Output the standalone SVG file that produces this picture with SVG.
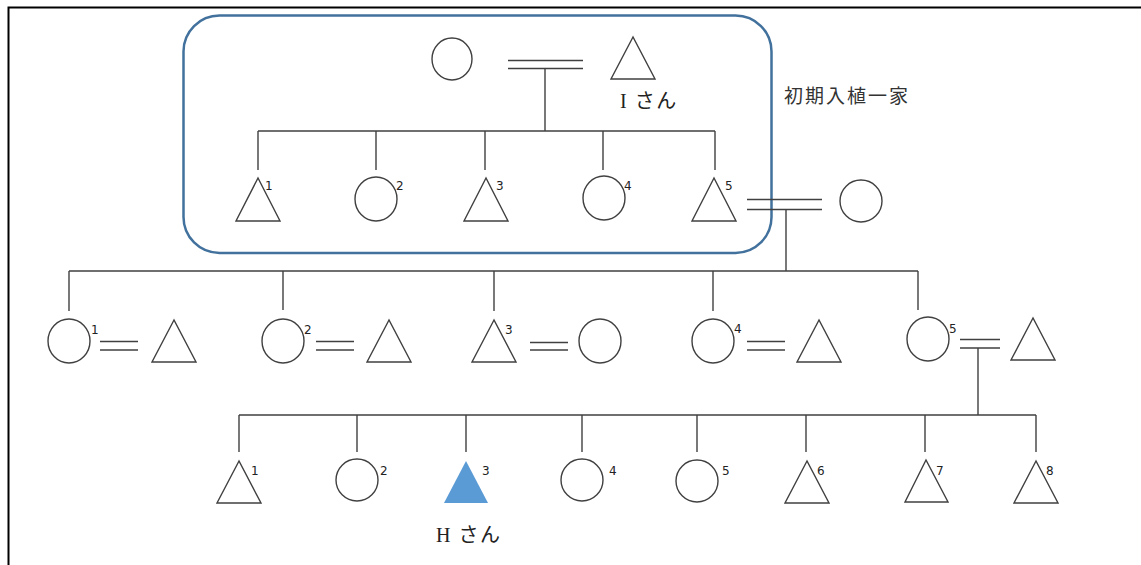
<svg xmlns="http://www.w3.org/2000/svg" width="1141" height="565" viewBox="0 0 1141 565">
<style>
.s{fill:none;stroke:#404040;stroke-width:1.4}
.c{fill:#fff;stroke:#404040;stroke-width:1.4}
.n{font-family:"DejaVu Sans","Liberation Sans",sans-serif;font-size:12px;fill:#222}
.j{font-family:"Liberation Serif","Noto Sans CJK JP",serif;font-size:20px;letter-spacing:1.5px;fill:#222}
.k{font-family:"Noto Sans CJK JP",sans-serif;font-size:19px;letter-spacing:2px;fill:#333}
</style>
<rect x="0" y="0" width="1141" height="565" fill="#fff"/>
<path d="M8.5,565 V7.5 H1141" fill="none" stroke="#000" stroke-width="2"/>
<g id="family-box">
<rect x="183.5" y="15.5" width="588" height="237.5" rx="36" fill="none" stroke="#41719C" stroke-width="2.5"/>
<text class="k" x="784" y="103">初期入植一家</text>
</g>
<g id="connectors" class="s">
<path d="M508,60.5H583M508,68.5H583M545,68.5V131"/>
<path d="M258,131H715M258,131V170M376,131V170M485,131V170M603,131V170M715,131V170"/>
<path d="M747,199.5H822M747,209.5H822M786,209.5V271"/>
<path d="M69,271H918M69,271V311M283,271V310M494,271V311M713,271V311M918,271V310"/>
<path d="M100,341.5H138M100,350H138"/>
<path d="M316,341.5H354M316,350H354"/>
<path d="M530,342.5H568M530,350H568"/>
<path d="M747,341.5H785M747,350H785"/>
<path d="M960,339.5H1000M960,348H1000M978,348V415"/>
<path d="M239,415H1036M239,415V452M357,415V452M466,415V452M582,415V452M697,415V452M806,415V452M925,415V452M1036,415V452"/>
</g>
<g id="g1-f"><ellipse class="c" cx="452" cy="59" rx="20" ry="21"/></g>
<g id="g1-m"><polygon class="c" points="633,37 611,79 655,79"/><text class="j" x="620" y="108">I さん</text></g>
<g id="g2-1"><polygon class="c" points="258,178 236,221 280,221"/><text class="n" x="265" y="190">1</text></g>
<g id="g2-2"><ellipse class="c" cx="376" cy="199" rx="21" ry="22"/><text class="n" x="396" y="190">2</text></g>
<g id="g2-3"><polygon class="c" points="486,178 464,221 508,221"/><text class="n" x="496" y="190">3</text></g>
<g id="g2-4"><ellipse class="c" cx="604" cy="198" rx="21" ry="22"/><text class="n" x="624" y="190">4</text></g>
<g id="g2-5"><polygon class="c" points="714,178 692,221 736,221"/><text class="n" x="725" y="190">5</text></g>
<g id="g2-5s"><ellipse class="c" cx="861" cy="201" rx="21" ry="21"/></g>
<g id="g3-1"><ellipse class="c" cx="69" cy="341" rx="21" ry="22"/><text class="n" x="91" y="334">1</text></g>
<g id="g3-1s"><polygon class="c" points="174,320 152,362 196,362"/></g>
<g id="g3-2"><ellipse class="c" cx="283" cy="341" rx="21" ry="22"/><text class="n" x="304" y="334">2</text></g>
<g id="g3-2s"><polygon class="c" points="389,320 367,362 411,362"/></g>
<g id="g3-3"><polygon class="c" points="494,320 472,362 516,362"/><text class="n" x="505" y="334">3</text></g>
<g id="g3-3s"><ellipse class="c" cx="600" cy="341" rx="21" ry="22"/></g>
<g id="g3-4"><ellipse class="c" cx="713" cy="341" rx="21" ry="22"/><text class="n" x="734" y="333">4</text></g>
<g id="g3-4s"><polygon class="c" points="819,320 797,362 841,362"/></g>
<g id="g3-5"><ellipse class="c" cx="928" cy="339" rx="21" ry="22"/><text class="n" x="949" y="333">5</text></g>
<g id="g3-5s"><polygon class="c" points="1033,318 1011,360 1055,360"/></g>
<g id="g4-1"><polygon class="c" points="239,461 217,503 261,503"/><text class="n" x="251" y="475">1</text></g>
<g id="g4-2"><ellipse class="c" cx="357" cy="480" rx="21" ry="21"/><text class="n" x="380" y="475">2</text></g>
<g id="g4-3"><polygon points="466,461 444,503 488,503" fill="#5B9BD5"/><text class="n" x="482" y="475">3</text><text class="j" x="436" y="542">H さん</text></g>
<g id="g4-4"><ellipse class="c" cx="582" cy="480" rx="21" ry="21"/><text class="n" x="609" y="475">4</text></g>
<g id="g4-5"><ellipse class="c" cx="697" cy="481" rx="21" ry="21"/><text class="n" x="722" y="475">5</text></g>
<g id="g4-6"><polygon class="c" points="807,461 785,503 829,503"/><text class="n" x="817" y="475">6</text></g>
<g id="g4-7"><polygon class="c" points="926,460 905,502 948,502"/><text class="n" x="936" y="475">7</text></g>
<g id="g4-8"><polygon class="c" points="1036,461 1014,503 1058,503"/><text class="n" x="1046" y="475">8</text></g>
</svg>
